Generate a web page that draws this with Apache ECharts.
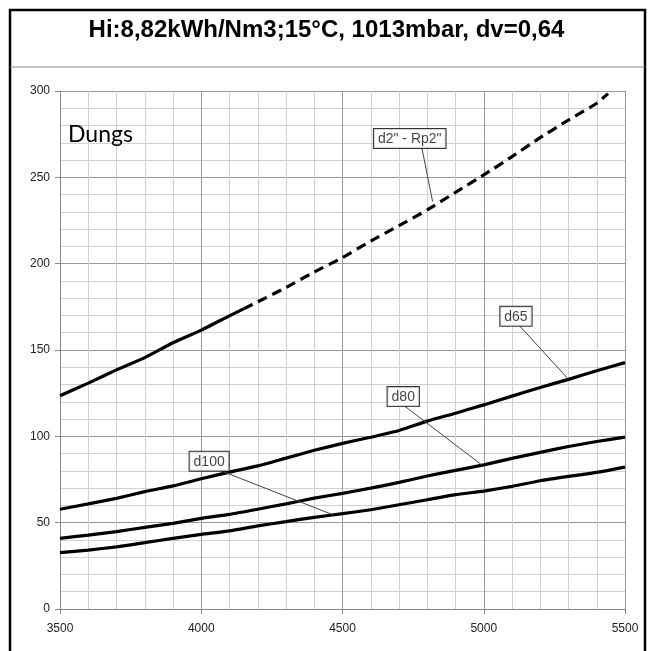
<!DOCTYPE html>
<html>
<head>
<meta charset="utf-8">
<title>Dungs</title>
<script src="https://cdn.jsdelivr.net/npm/echarts@6/dist/echarts.min.js"></script>
<style>
  html, body { margin: 0; padding: 0; background: #fff; }
  #chart { width: 653px; height: 651px; }
</style>
</head>
<body>
<div id="chart"></div>
<script>
// Flow rates (x axis) at which the curves are tabulated
const flow = [3500, 3600, 3700, 3800, 3900, 4000, 4100, 4200, 4300, 4400, 4500,
              4600, 4700, 4800, 4900, 5000, 5100, 5200, 5300, 5400, 5500];

// d65, d80, d100 pressure-drop curves
const d65  = [57.8, 60.9, 64.1, 68.0, 71.3, 75.4, 79.3, 82.9, 87.4, 91.9, 95.9,
              99.5, 103.4, 108.8, 113.4, 118.2, 123.3, 128.3, 133.0, 138.0, 142.7];
const d80  = [40.9, 42.8, 44.8, 47.3, 49.6, 52.5, 54.8, 57.8, 60.9, 64.2, 67.0,
              70.0, 73.3, 77.0, 80.3, 83.5, 87.2, 90.7, 94.1, 97.0, 99.5];
const d100 = [32.6, 34.1, 36.0, 38.4, 40.9, 43.2, 45.2, 48.1, 50.6, 53.1, 55.2,
              57.5, 60.4, 63.3, 66.2, 68.3, 71.0, 74.3, 76.8, 79.1, 82.2];

// d2" - Rp2" curve: solid part, then dashed part
const d2SolidFlow  = [3500, 3600, 3700, 3800, 3900, 4000, 4100, 4150];
const d2Solid      = [123.5, 130.8, 138.5, 145.6, 154.2, 161.5, 169.8, 173.8];
const d2DashedFlow = [4150, 4200, 4300, 4400, 4500, 4600, 4700, 4800, 4900, 5000,
                      5100, 5200, 5300, 5400, 5440];
const d2Dashed     = [173.8, 177.9, 186.2, 195.2, 203.5, 213.1, 222.0, 231.1, 241.3, 251.4,
                      262.0, 273.0, 283.2, 292.9, 298.5];

// Callout boxes: text, box bottom-centre, where the leader leaves the box, and where it points
const calloutText    = ['d2" - Rp2"', 'd65', 'd80', 'd100'];
const calloutBoxX    = [4738, 5114, 4715, 4028];
const calloutBoxY    = [267, 164, 117.5, 80];
const calloutLeaderX = [4781, 5127, 4720, 4071];
const calloutTargetX = [4819, 5300, 4994, 4467];
const calloutTargetY = [236, 133, 83.3, 54.5];

// Axis ranges and tick steps
const xMin = 3500, xMax = 5500, xStep = 500;
const yMin = 0, yMax = 300, yStep = 50;

const titleText = 'Hi:8,82kWh/Nm3;15°C, 1013mbar, dv=0,64';
const brandText = 'Dungs';

const pairs = (xs, ys) => xs.map((x, i) => [x, ys[i]]);

const curveStyle = { color: '#000', width: 3.2 };
const curve = (name, data, type) => ({
  name, type: 'line', data, symbol: 'none', smooth: 0.15, clip: true,
  lineStyle: Object.assign({}, curveStyle, type ? { type, cap: 'butt' } : {}),
  z: 3, silent: true
});

const series = [
  curve('d2" - Rp2"', pairs(d2SolidFlow, d2Solid)),
  curve('d2" - Rp2" ', pairs(d2DashedFlow, d2Dashed), [10, 6]),
  curve('d65', pairs(flow, d65)),
  curve('d80', pairs(flow, d80)),
  curve('d100', pairs(flow, d100))
];

// leader lines
calloutText.forEach((t, i) => {
  series.push({
    type: 'line', symbol: 'none', silent: true, z: 4,
    lineStyle: { color: '#444', width: 1 },
    data: [[calloutLeaderX[i], calloutBoxY[i]], [calloutTargetX[i], calloutTargetY[i]]]
  });
});

// callout boxes
series.push({
  type: 'scatter', symbolSize: 0, silent: true, z: 5,
  data: calloutText.map((t, i) => ({ value: [calloutBoxX[i], calloutBoxY[i]], name: t })),
  label: {
    show: true, position: 'top', distance: 0,
    formatter: p => p.name,
    fontFamily: 'Liberation Sans, Arial, sans-serif', fontSize: 14, color: '#111',
    backgroundColor: '#fff', borderColor: '#000', borderWidth: 1,
    padding: [3, 4, 2, 4]
  }
});

const tickFont = { fontFamily: 'Liberation Sans, Arial, sans-serif', fontSize: 12, color: '#222' };

const chart = echarts.init(document.getElementById('chart'), null, { renderer: 'canvas' });
chart.setOption({
  animation: false,
  backgroundColor: '#fff',
  title: {
    text: titleText, left: 'center', top: 13,
    textStyle: { fontFamily: 'Liberation Sans, Arial, sans-serif', fontSize: 24, fontWeight: 'bold', color: '#000' }
  },
  graphic: [
    { type: 'rect', shape: { x: 10, y: 10, width: 635, height: 700 },
      style: { fill: 'none', stroke: '#000', lineWidth: 2.5 }, z: 10 },
    { type: 'line', shape: { x1: 10, y1: 67, x2: 645, y2: 67 },
      style: { stroke: '#8a8a8a', lineWidth: 1 }, z: 10 },
    { type: 'text', left: 68, top: 123, z: 10,
      style: { text: brandText, font: '23px Lato, "Open Sans", sans-serif', fill: '#000' } }
  ],
  grid: { left: 60, right: 28, top: 91, bottom: 42, containLabel: false },
  xAxis: {
    type: 'value', min: xMin, max: xMax, interval: xStep,
    axisLine: { show: true, lineStyle: { color: '#888', width: 1 } },
    axisTick: { show: true, length: 5, lineStyle: { color: '#888' } },
    axisLabel: Object.assign({ margin: 14, formatter: v => String(v) }, tickFont),
    splitLine: { show: true, lineStyle: { color: '#999', width: 1 } },
    minorTick: { show: false, splitNumber: 5 },
    minorSplitLine: { show: true, lineStyle: { color: '#d2d2d2', width: 1 } }
  },
  yAxis: {
    type: 'value', min: yMin, max: yMax, interval: yStep,
    axisLine: { show: true, lineStyle: { color: '#888', width: 1 } },
    axisTick: { show: true, length: 5, lineStyle: { color: '#888' } },
    axisLabel: Object.assign({ margin: 10, formatter: v => String(v) }, tickFont),
    splitLine: { show: true, lineStyle: { color: '#999', width: 1 } },
    minorTick: { show: false, splitNumber: 5 },
    minorSplitLine: { show: true, lineStyle: { color: '#d2d2d2', width: 1 } }
  },
  series
});
</script>
</body>
</html>
